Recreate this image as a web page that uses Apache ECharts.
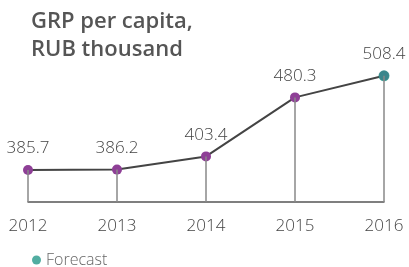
<!DOCTYPE html>
<html>
<head>
<meta charset="utf-8">
<script src="https://cdn.jsdelivr.net/npm/echarts@6/dist/echarts.min.js"></script>
<style>
  html, body { margin: 0; padding: 0; background: #fff; }
  #chart { width: 409px; height: 267px; }
</style>
</head>
<body>
<div id="chart"></div>
<script>
var years = ['2012', '2013', '2014', '2015', '2016'];
var grp = [385.7, 386.2, 403.4, 480.3, 508.4];
var forecast = [null, null, null, null, 508.4];
var yMin = 344;
var yMax = 529;

var font = '"Open Sans", Lato, sans-serif';
var chart = echarts.init(document.getElementById('chart'));

var option = {
  animation: false,
  title: {
    text: 'GRP per capita,\nRUB thousand',
    left: 26,
    top: 3,
    textStyle: {
      fontFamily: font,
      fontSize: 22,
      fontWeight: 600,
      lineHeight: 28,
      color: '#555'
    }
  },
  legend: {
    left: 27,
    top: 247,
    icon: 'circle',
    itemWidth: 9,
    itemHeight: 9,
    itemGap: 10,
    data: ['Forecast'],
    textStyle: { fontFamily: font, fontSize: 16, fontWeight: 300, color: '#666' }
  },
  grid: { left: 28, right: 25, top: 60, bottom: 65 },
  xAxis: {
    type: 'category',
    data: years,
    boundaryGap: false,
    axisLine: { lineStyle: { color: '#555', width: 1.5 } },
    axisTick: { show: false },
    axisLabel: { margin: 16, fontFamily: font, fontSize: 17, fontWeight: 300, color: '#444' }
  },
  yAxis: {
    type: 'value',
    min: yMin,
    max: yMax,
    show: false,
    splitLine: { show: false }
  },
  series: [
    {
      name: 'GRP',
      type: 'line',
      data: grp,
      symbol: 'circle',
      symbolSize: 10,
      itemStyle: { color: '#8e3f96' },
      lineStyle: { color: '#444', width: 2 },
      label: {
        show: true,
        position: 'top',
        distance: 8,
        fontFamily: font,
        fontSize: 17,
        fontWeight: 300,
        color: '#444'
      },
      markLine: {
        silent: true,
        symbol: 'none',
        label: { show: false },
        lineStyle: { color: '#888', width: 1.5, type: 'solid' },
        data: years.map(function (y, i) {
          return [{ coord: [y, grp[i]] }, { coord: [y, yMin] }];
        })
      },
      z: 3
    },
    {
      name: 'Forecast',
      type: 'scatter',
      data: forecast,
      symbol: 'circle',
      symbolSize: 11,
      itemStyle: { color: '#26998a' },
      z: 4
    }
  ]
};
chart.setOption(option);
</script>
</body>
</html>
